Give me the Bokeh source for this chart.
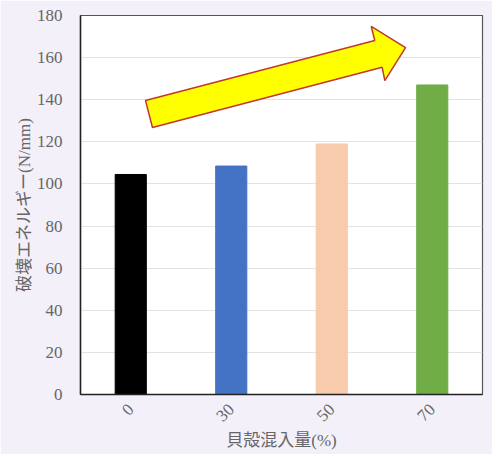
from bokeh.plotting import figure
from bokeh.models import Range1d, FixedTicker
from bokeh.embed import file_html
from bokeh.resources import INLINE
import math

# data
shell_ratio = ["0", "30", "50", "70"]
energy = [104.5, 108.5, 119.0, 147.0]
bar_colors = ["#000000", "#4472c4", "#f8cbad", "#70ad47"]
y_ticks = [0, 20, 40, 60, 80, 100, 120, 140, 160, 180]

# trend arrow outline (x in category slots, y in N/mm)
arrow_x = [0.647, 2.928, 2.893, 3.234, 3.028, 3.002, 0.716]
arrow_y = [139.6, 168.1, 174.8, 164.7, 149.1, 155.4, 126.8]

serif = "'Liberation Serif', 'Noto Sans CJK JP'"
bg = "#f3f0fa"

p = figure(width=492, height=454,
           x_range=Range1d(0, len(shell_ratio)),
           y_range=Range1d(0, 180),
           output_backend="svg", toolbar_location=None,
           min_border_left=80, min_border_right=10,
           min_border_top=15, min_border_bottom=60)

p.border_fill_color = bg
p.background_fill_color = "white"
p.outline_line_color = "#555555"
p.outline_line_width = 1.2

xs = [i + 0.5 for i in range(len(shell_ratio))]
p.vbar(x=xs, top=energy, width=0.31, bottom=0, color=bar_colors)

p.patch(arrow_x, arrow_y, fill_color="#ffff00", line_color="#c0392b",
        line_width=1.5)

p.xgrid.visible = False
p.ygrid.grid_line_color = "#e3e3e3"
p.ygrid.ticker = FixedTicker(ticks=y_ticks)

p.xaxis.ticker = FixedTicker(ticks=xs)
p.xaxis.major_label_overrides = {x: lab for x, lab in zip(xs, shell_ratio)}
p.xaxis.major_label_orientation = math.pi / 4
p.yaxis.ticker = FixedTicker(ticks=y_ticks)

for ax in (p.xaxis, p.yaxis):
    ax.major_tick_line_color = None
    ax.minor_tick_line_color = None
    ax.axis_line_color = "#222222"
    ax.axis_line_width = 1.5
    ax.major_label_text_font = serif
    ax.major_label_text_font_size = "17px"
    ax.major_label_text_color = "#666666"
    ax.axis_label_text_font = serif
    ax.axis_label_text_font_size = "17px"
    ax.axis_label_text_font_style = "normal"
    ax.axis_label_text_color = "#666666"

p.xaxis.axis_label = "貝殻混入量(%)"
p.yaxis.axis_label = "破壊エネルギー(N/mm)"
p.xaxis.major_label_standoff = 6
p.yaxis.major_label_standoff = 12
p.xaxis.axis_label_standoff = 2
p.yaxis.axis_label_standoff = 0

open("out.html", "w").write(file_html(p, INLINE))
